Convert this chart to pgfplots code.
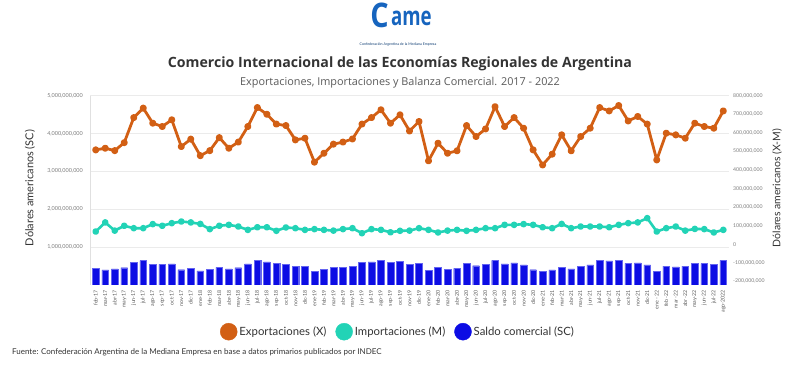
\documentclass[border=0pt]{standalone}
\usepackage{pgfplots}
\pgfplotsset{compat=1.18}
\usepackage{pgfplotstable}
\usepackage{fontspec}
\setmainfont{Lato}
\newfontfamily\titlefont{Open Sans}
\definecolor{cexp}{RGB}{210,95,20}
\definecolor{cimp}{RGB}{34,211,182}
\definecolor{csc}{RGB}{12,12,228}
\definecolor{cscedge}{RGB}{100,100,240}
\definecolor{gridc}{RGB}{235,235,235}
\definecolor{ticklab}{RGB}{125,125,125}
\definecolor{camebl}{RGB}{22,100,190}
\definecolor{darktxt}{RGB}{51,51,51}

\pgfplotstableread{
i X M SC
0 508 68 0.436
1 517 117 0.392
2 504 73 0.418
3 547 99 0.452
4 682 86 0.595
5 733 86 0.638
6 652 108 0.542
7 634 99 0.542
8 670 113 0.550
9 526 122 0.399
10 566 117 0.436
11 477 109 0.365
12 504 81 0.410
13 574 99 0.463
14 517 104 0.418
15 550 95 0.452
16 634 77 0.550
17 736 91 0.638
18 700 91 0.603
19 647 72 0.569
20 639 90 0.542
21 562 86 0.479
22 571 77 0.479
23 442 81 0.357
24 490 77 0.410
25 539 73 0.463
26 550 81 0.463
27 567 86 0.479
28 647 59 0.585
29 682 81 0.603
30 724 77 0.638
31 652 64 0.585
32 697 72 0.611
33 610 73 0.542
34 661 86 0.569
35 449 77 0.373
36 544 63 0.463
37 490 73 0.410
38 503 77 0.436
39 639 72 0.558
40 580 77 0.505
41 621 86 0.542
42 741 86 0.648
43 634 104 0.550
44 682 104 0.577
45 625 108 0.524
46 508 104 0.399
47 427 91 0.347
48 485 86 0.392
49 589 109 0.463
50 503 86 0.418
51 580 95 0.497
52 625 95 0.524
53 736 95 0.638
54 718 91 0.630
55 747 104 0.638
56 664 113 0.569
57 688 117 0.577
58 647 140 0.524
59 454 68 0.347
60 598 86 0.497
61 589 95 0.471
62 571 73 0.497
63 652 82 0.569
64 634 81 0.558
65 625 63 0.542
66 718 77 0.648
}\data

\begin{document}
\begin{tikzpicture}
\path[use as bounding box] (0,0) rectangle (800bp,375bp);

% left axis: saldo comercial (bars)
\begin{axis}[
  at={(90bp,90.2bp)}, anchor=south west,
  scale only axis, width=639bp, height=189.1bp,
  xmin=-0.6, xmax=66.6, ymin=0, ymax=5,
  axis x line*=bottom, axis y line*=left,
  x axis line style={draw=none},
  y axis line style={draw=black!12},
  major tick length=0pt,
  ymajorgrids, grid style={draw=gridc, line width=0.6bp},
  ytick={1,2,3,4,5},
  yticklabels={{1,000,000,000},{2,000,000,000},{3,000,000,000},{4,000,000,000},{5,000,000,000}},
  yticklabel style={font=\fontsize{5.5}{6}\selectfont, text=ticklab, inner sep=0pt, xshift=-7bp},
  xtick={0,...,66},
  xticklabels={feb-17,mar-17,abr-17,may-17,jun-17,jul-17,ago-17,sep-17,oct-17,nov-17,dic-17,
    ene-18,feb-18,mar-18,abr-18,may-18,jun-18,jul-18,ago-18,sep-18,oct-18,nov-18,dic-18,
    ene-19,feb-19,mar-19,abr-19,may-19,jun-19,jul-19,ago-19,sep-19,oct-19,nov-19,dic-19,
    ene-20,feb-20,mar-20,abr-20,may-20,jun-20,jul-20,ago-20,sep-20,oct-20,nov-20,dic-20,
    ene-21,feb-21,mar-21,abr-21,may-21,jun-21,jul-21,ago-21,sep-21,oct-21,nov-21,dic-21,
    ene - 22,feb -22,mar -22,abr -22,may-22,jun-22,jul-22,ago-2022},
  xticklabel style={font=\fontsize{5.3}{6}\selectfont, text=black!65, rotate=90, anchor=east, inner sep=0pt},
  xticklabel shift=5bp,
  ybar, bar width=6.7bp,
]
\addplot[draw=cscedge, line width=0.4bp, fill=csc] table[x=i, y=SC] {\data};
\end{axis}

% right axis: exportaciones / importaciones (lines)
\begin{axis}[
  at={(90bp,90.2bp)}, anchor=south west,
  scale only axis, width=639bp, height=189.1bp,
  xmin=-0.6, xmax=66.6, ymin=-219, ymax=800,
  axis x line=none, axis y line*=right,
  y axis line style={draw=none},
  major tick length=0pt,
  ytick={-200,-100,0,100,200,300,400,500,600,700,800},
  yticklabels={{-200,000,000},{-100,000,000},{0},{100,000,000},{200,000,000},{300,000,000},{400,000,000},{500,000,000},{600,000,000},{700,000,000},{800,000,000}},
  yticklabel style={font=\fontsize{5.2}{6}\selectfont, text=ticklab, inner sep=0pt, xshift=4bp, anchor=west},
  legend style={at={(0.482,-0.248)}, anchor=center, draw=none, fill=none,
    font=\fontsize{11.4}{13}\selectfont, text=darktxt,
    /tikz/every even column/.append style={column sep=7bp}},
  legend columns=3, legend cell align=left,
]
\addlegendimage{legend image code/.code={\fill[cexp] (0bp,0bp) circle (8.5bp);}}
\addlegendentry{Exportaciones (X)}
\addlegendimage{legend image code/.code={\fill[cimp] (0bp,0bp) circle (8.5bp);}}
\addlegendentry{Importaciones (M)}
\addlegendimage{legend image code/.code={\fill[csc] (0bp,0bp) circle (8.5bp);}}
\addlegendentry{Saldo comercial (SC)}
\addplot[forget plot, cimp, line width=2.6bp, mark=*, mark size=2bp, line join=round] table[x=i, y=M] {\data};
\addplot[forget plot, cexp, line width=2.8bp, mark=*, mark size=2.1bp, line join=round] table[x=i, y=X] {\data};
\end{axis}

% axis titles
\node[rotate=90, font=\fontsize{11}{13}\selectfont, text=darktxt] at (30bp,187bp) {Dólares americanos (SC)};
\node[rotate=90, font=\fontsize{10.5}{13}\selectfont, text=darktxt] at (777bp,187bp) {Dólares americanos (X-M)};

% titles
\node[font=\titlefont\bfseries\fontsize{14.2}{16}\selectfont, text=darktxt] at (400bp,311bp) {Comercio Internacional de las Economías Regionales de Argentina};
\node[font=\titlefont\fontsize{10.9}{13}\selectfont, text=black!65] at (400bp,292bp) {Exportaciones, Importaciones y Balanza Comercial. 2017 - 2022};

% logo
\node[font=\titlefont\bfseries\fontsize{34}{34}\selectfont, text=camebl, inner sep=0pt, xscale=0.85, anchor=east] at (389bp,360bp) {C};
\node[font=\titlefont\bfseries\fontsize{26}{26}\selectfont, text=camebl, inner sep=0pt, xscale=0.72, anchor=west] at (391bp,357bp) {ame};
\node[font=\fontsize{3.6}{4}\selectfont, text=camebl!60!black, inner sep=0pt] at (398bp,330bp) {Confederación Argentina de la Mediana Empresa};

% source
\node[anchor=west, font=\fontsize{8}{10}\selectfont, text=darktxt, inner sep=0pt] at (12bp,23bp) {Fuente: Confederación Argentina de la Mediana Empresa en base a datos primarios publicados por INDEC};
\end{tikzpicture}
\end{document}
